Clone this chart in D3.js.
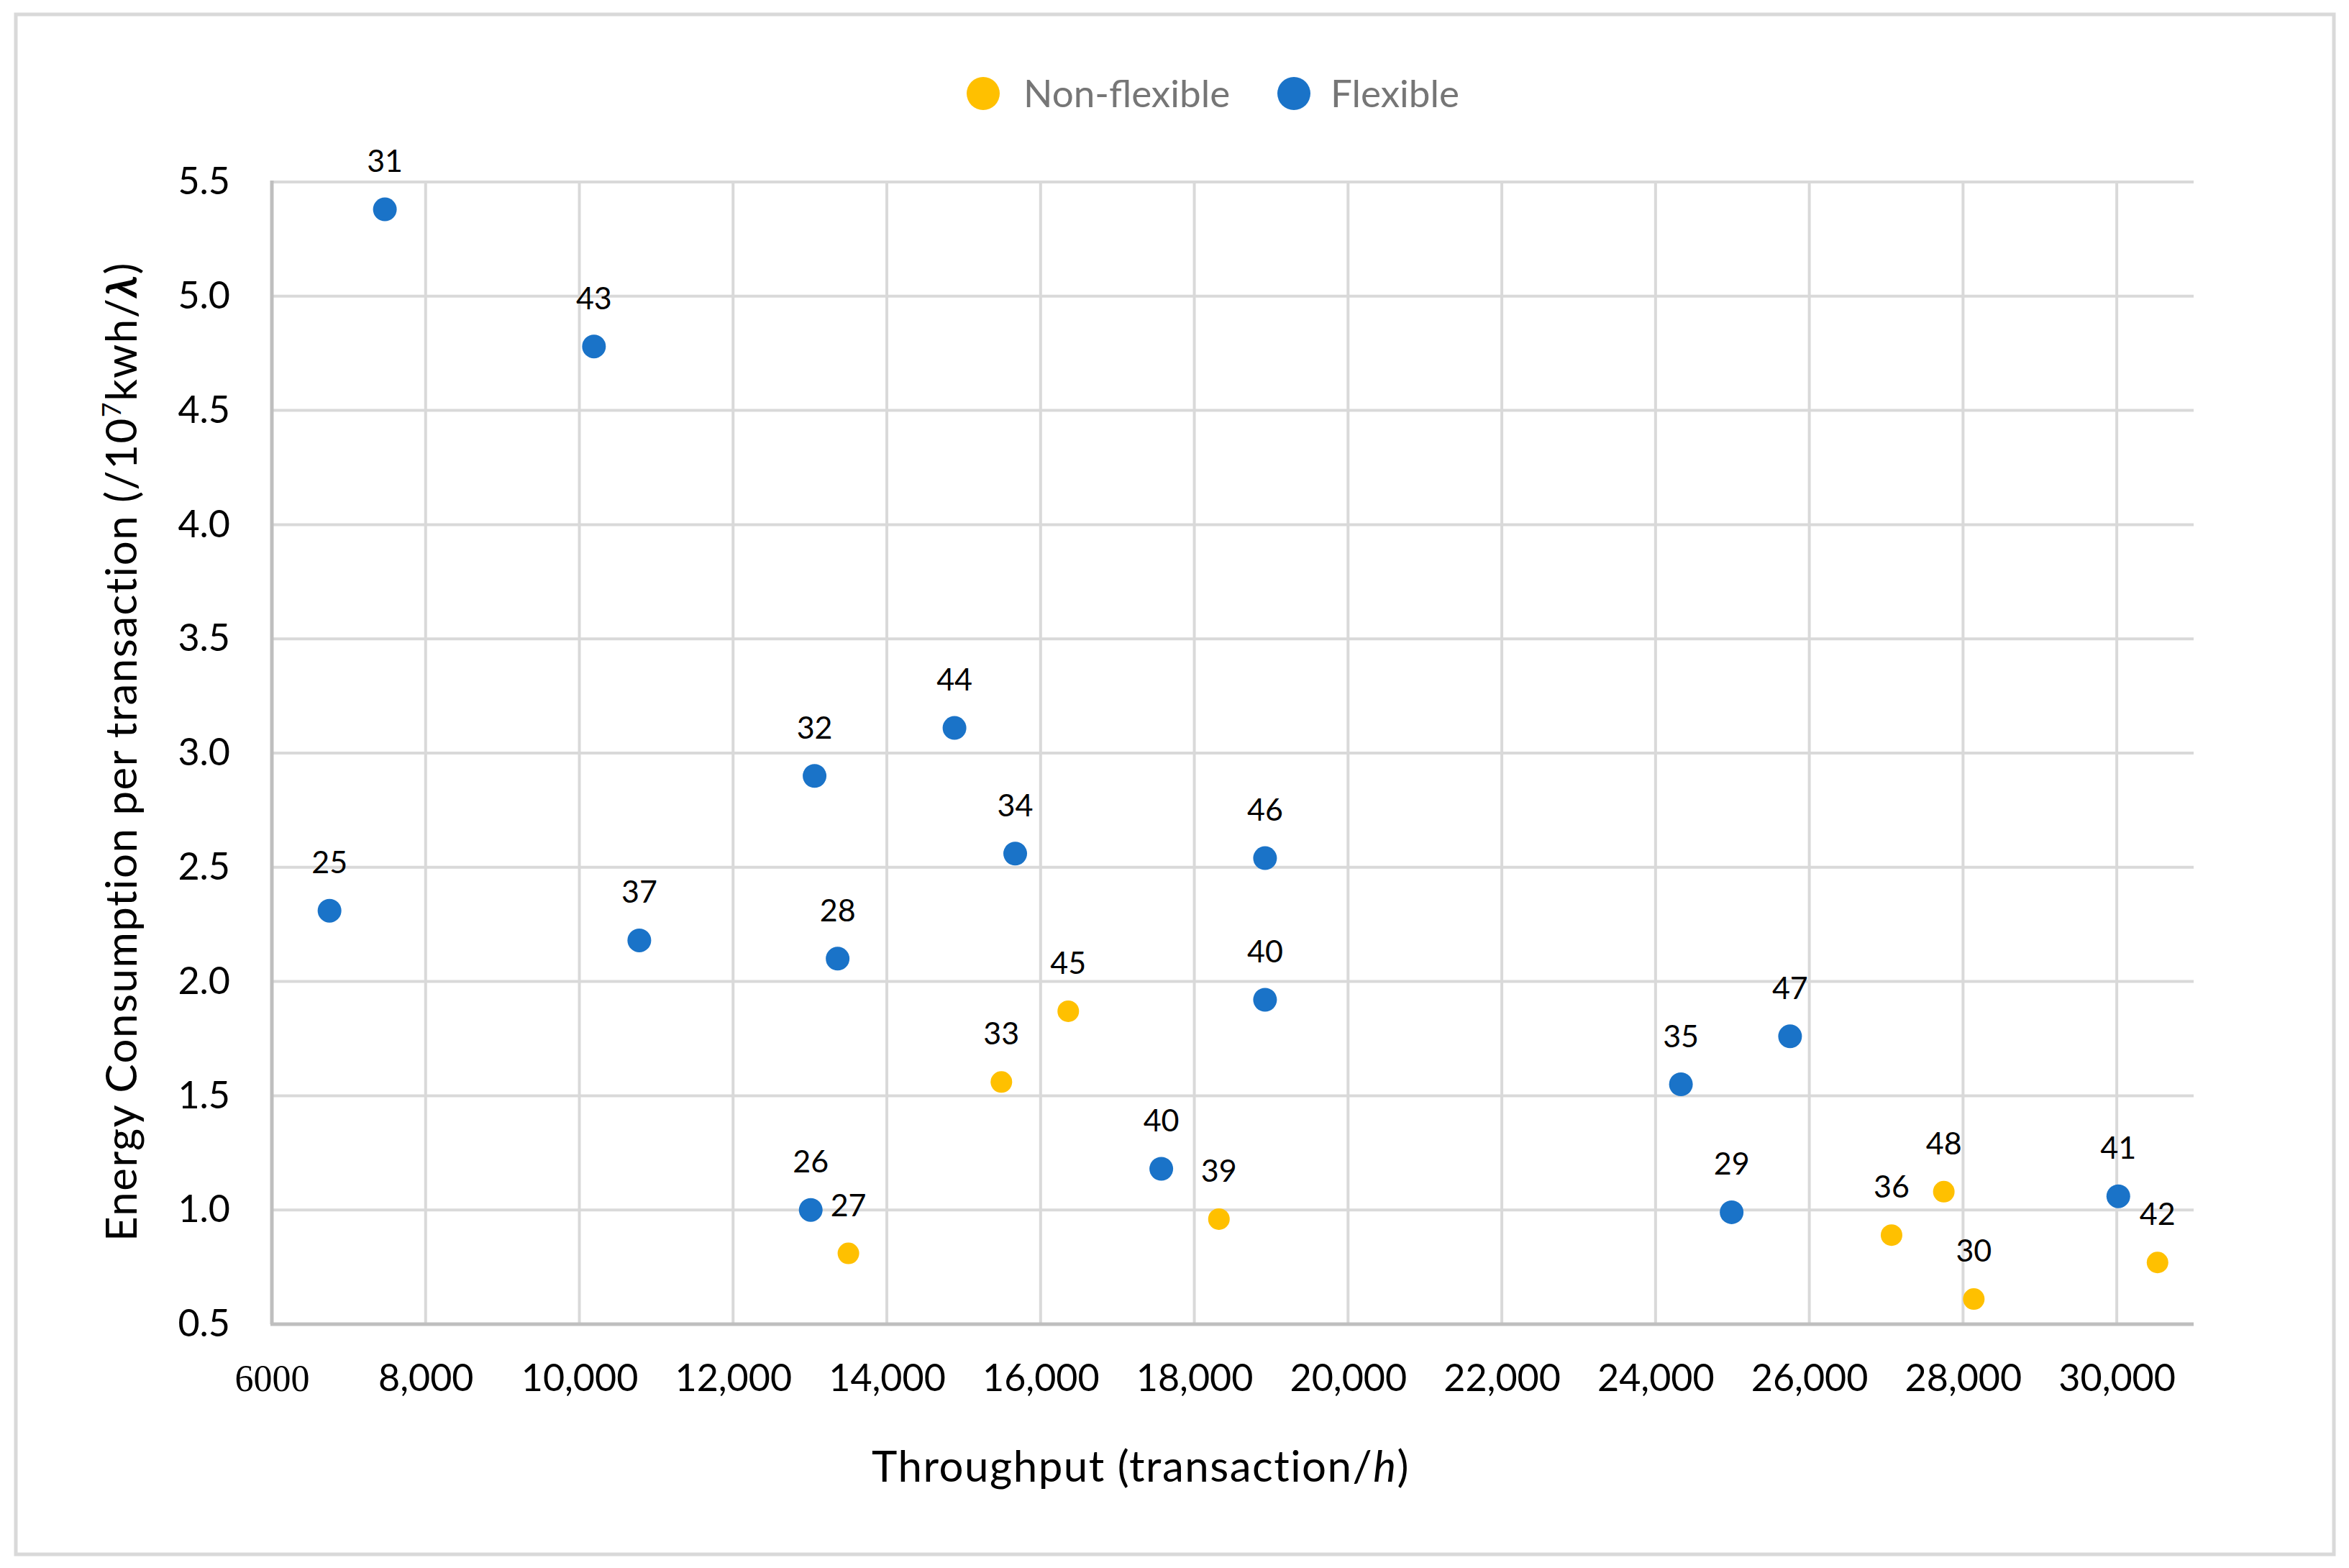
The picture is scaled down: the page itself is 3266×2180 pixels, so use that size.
<!DOCTYPE html>
<html>
<head>
<meta charset="utf-8">
<script src="https://cdn.jsdelivr.net/npm/d3@7"></script>
<style>
  html, body { margin: 0; padding: 0; background: #fff; }
  svg { display: block; font-family: Lato, "Open Sans", sans-serif; }
</style>
</head>
<body>
<div id="chart"></div>
<script>
// Data
const seriesNames = ['Non-flexible', 'Flexible'];

const nonFlexLabels = [45, 33, 27, 39, 36, 48, 30, 42];
const nonFlexX = [16360, 15490, 13500, 18320, 27070, 27750, 28140, 30530];
const nonFlexY = [1.87, 1.56, 0.81, 0.96, 0.89, 1.08, 0.61, 0.77];

const flexLabels = [31, 43, 25, 37, 32, 44, 34, 46, 28, 40, 40, 26, 35, 47, 29, 41];
const flexX = [7470, 10190, 6750, 10780, 13060, 14880, 15670, 18920, 13360, 18920, 17570, 13010, 24330, 25750, 24990, 30020];
const flexY = [5.38, 4.78, 2.31, 2.18, 2.90, 3.11, 2.56, 2.54, 2.10, 1.92, 1.18, 1.00, 1.55, 1.76, 0.99, 1.06];

const xTicks = [6000, 8000, 10000, 12000, 14000, 16000, 18000, 20000, 22000, 24000, 26000, 28000, 30000];
const yTicks = [0.5, 1.0, 1.5, 2.0, 2.5, 3.0, 3.5, 4.0, 4.5, 5.0, 5.5];

const width = 3266, height = 2180;
const plot = { left: 378, right: 3050, top: 253, bottom: 1841 };

const svg = d3.select('#chart')
  .append('svg')
  .attr('width', width)
  .attr('height', height)
  .attr('viewBox', `0 0 ${width} ${height}`);

svg.append('rect')
  .attr('width', width)
  .attr('height', height)
  .attr('fill', '#fff');

// outer chart border
svg.append('rect')
  .attr('x', 22)
  .attr('y', 20)
  .attr('width', 3223)
  .attr('height', 2141)
  .attr('fill', 'none')
  .attr('stroke', '#d9d9d9')
  .attr('stroke-width', 5);

const x = d3.scaleLinear().domain([6000, 31000]).range([plot.left, plot.right]);
const y = d3.scaleLinear().domain([0.5, 5.5]).range([plot.bottom, plot.top]);

// gridlines
const grid = svg.append('g').attr('stroke', '#d9d9d9').attr('stroke-width', 4);
xTicks.slice(1).forEach(t => {
  grid.append('line')
    .attr('x1', x(t)).attr('x2', x(t))
    .attr('y1', plot.top).attr('y2', plot.bottom);
});
yTicks.slice(1).forEach(t => {
  grid.append('line')
    .attr('x1', plot.left).attr('x2', plot.right)
    .attr('y1', y(t)).attr('y2', y(t));
});

// axis lines
svg.append('line')
  .attr('x1', plot.left).attr('x2', plot.left)
  .attr('y1', plot.top - 2).attr('y2', plot.bottom)
  .attr('stroke', '#bfbfbf').attr('stroke-width', 5);
svg.append('line')
  .attr('x1', plot.left - 2).attr('x2', plot.right)
  .attr('y1', plot.bottom).attr('y2', plot.bottom)
  .attr('stroke', '#bfbfbf').attr('stroke-width', 5);

// y axis tick labels
const yAxis = svg.append('g')
  .attr('transform', `translate(${plot.left},0)`)
  .call(d3.axisLeft(y).tickValues(yTicks).tickSize(0).tickPadding(58).tickFormat(d3.format('.1f')));
yAxis.select('.domain').remove();
yAxis.selectAll('text')
  .attr('font-family', 'Lato, sans-serif')
  .attr('font-size', 52)
  .attr('fill', '#000');

// x axis tick labels
const xAxis = svg.append('g')
  .attr('transform', `translate(0,${plot.bottom})`)
  .call(d3.axisBottom(x).tickValues(xTicks).tickSize(0).tickPadding(56).tickFormat(d3.format(',')));
xAxis.select('.domain').remove();
xAxis.selectAll('text')
  .attr('font-family', 'Lato, sans-serif')
  .attr('font-size', 52)
  .attr('fill', '#000');
// the first label is set in a serif face without a separator in the original
xAxis.selectAll('text')
  .filter(d => d === 6000)
  .text('6000')
  .attr('font-family', '"Liberation Serif", serif');

// points
const series = [
  { name: seriesNames[0], labels: nonFlexLabels, xs: nonFlexX, ys: nonFlexY, color: '#ffc000', r: 15 },
  { name: seriesNames[1], labels: flexLabels, xs: flexX, ys: flexY, color: '#1a73c8', r: 16.5 }
];

series.forEach(s => {
  const pts = s.labels.map((l, i) => ({ label: l, x: s.xs[i], y: s.ys[i] }));
  const g = svg.append('g');
  g.selectAll('circle')
    .data(pts)
    .join('circle')
    .attr('cx', d => x(d.x))
    .attr('cy', d => y(d.y))
    .attr('r', s.r)
    .attr('fill', s.color);
  g.selectAll('text')
    .data(pts)
    .join('text')
    .attr('x', d => x(d.x))
    .attr('y', d => y(d.y) - 52)
    .attr('text-anchor', 'middle')
    .attr('font-size', 43)
    .attr('fill', '#000')
    .text(d => d.label);
});

// legend
const legendPos = [{ cx: 1367, tx: 1423 }, { cx: 1799, tx: 1850 }];
series.forEach((s, i) => {
  svg.append('circle')
    .attr('cx', legendPos[i].cx)
    .attr('cy', 130)
    .attr('r', 23)
    .attr('fill', s.color);
  svg.append('text')
    .attr('x', legendPos[i].tx)
    .attr('y', 149)
    .attr('font-size', 53)
    .attr('fill', '#767676')
    .text(s.name);
});

// axis titles
const xTitle = svg.append('text')
  .attr('x', 1586)
  .attr('y', 2060)
  .attr('text-anchor', 'middle')
  .attr('font-size', 60)
  .attr('letter-spacing', 1.5)
  .attr('fill', '#000');
xTitle.append('tspan').text('Throughput (transaction/');
xTitle.append('tspan').attr('font-style', 'italic').text('h');
xTitle.append('tspan').text(')');

const yTitle = svg.append('text')
  .attr('transform', 'translate(190,1045) rotate(-90)')
  .attr('text-anchor', 'middle')
  .attr('font-size', 60)
  .attr('letter-spacing', 1.5)
  .attr('fill', '#000');
yTitle.append('tspan').text('Energy Consumption per transaction (/10');
yTitle.append('tspan').attr('font-size', 36).attr('dy', -22).text('7');
yTitle.append('tspan').attr('dy', 22).text('kwh/');
yTitle.append('tspan').attr('font-style', 'italic').attr('font-weight', 'bold').text('λ');
yTitle.append('tspan').text(')');
</script>
</body>
</html>
